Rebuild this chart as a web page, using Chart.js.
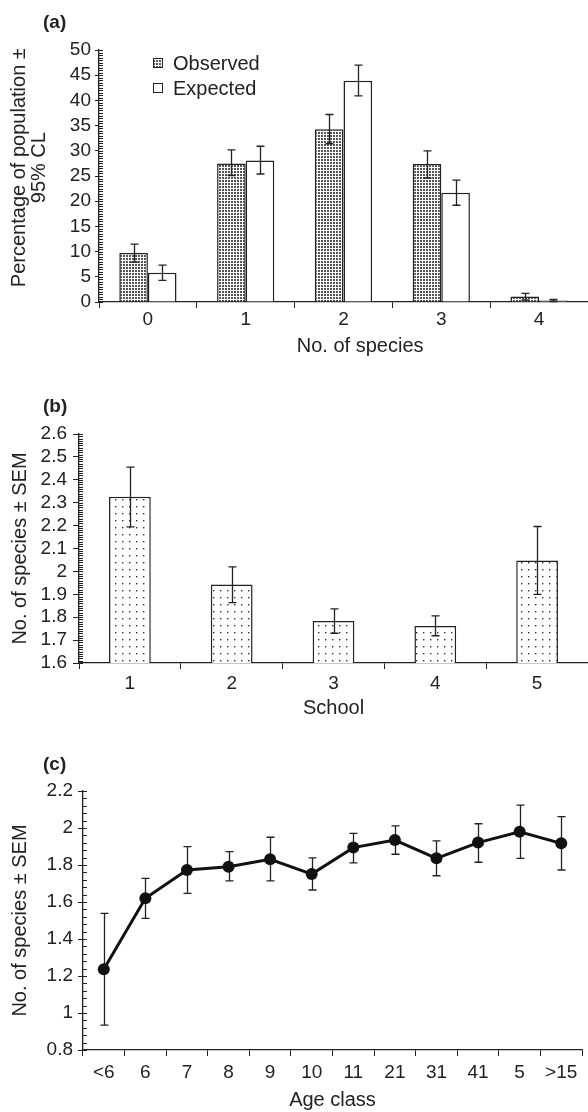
<!DOCTYPE html>
<html>
<head>
<meta charset="utf-8">
<script src="https://cdn.jsdelivr.net/npm/chart.js@4.4.1/dist/chart.umd.min.js"></script>
<style>
  html, body { margin: 0; padding: 0; background: #fff; }
  body { width: 588px; height: 1112px; position: relative; overflow: hidden; }
  .panel { position: absolute; left: 0; width: 588px; }
</style>
</head>
<body>
<div class="panel" style="top:0;height:360px"><canvas id="chartA"></canvas></div>
<div class="panel" style="top:370px;height:350px"><canvas id="chartB"></canvas></div>
<div class="panel" style="top:730px;height:382px"><canvas id="chartC"></canvas></div>
<script>
// (a) species count distribution
const speciesCounts = ['0', '1', '2', '3', '4'];
const observedPct = [9.7, 27.5, 34.3, 27.4, 1.1];
const observedLow = [7.9, 25.1, 31.4, 24.6, 0.4];
const observedHigh = [11.5, 30.2, 37.2, 30.0, 1.7];
const expectedPct = [5.8, 28.1, 43.9, 21.7, 0.3];
const expectedLow = [4.3, 25.4, 40.9, 19.2, 0.1];
const expectedHigh = [7.3, 30.9, 47.0, 24.2, 0.5];

// (b) per school
const schools = ['1', '2', '3', '4', '5'];
const schoolMean = [2.326, 1.943, 1.783, 1.762, 2.048];
const schoolLow = [2.194, 1.864, 1.730, 1.719, 1.900];
const schoolHigh = [2.455, 2.020, 1.836, 1.806, 2.196];

// (c) per age class
const ageClasses = ['<6', '6', '7', '8', '9', '10', '11', '21', '31', '41', '5', '>15'];
const ageMean = [1.236, 1.620, 1.773, 1.791, 1.831, 1.751, 1.894, 1.935, 1.836, 1.921, 1.980, 1.917];
const ageLow = [0.935, 1.512, 1.647, 1.714, 1.714, 1.665, 1.812, 1.858, 1.742, 1.815, 1.836, 1.773];
const ageHigh = [1.539, 1.728, 1.899, 1.872, 1.950, 1.839, 1.971, 2.011, 1.930, 2.023, 2.124, 2.061];

const FONT = "'Liberation Sans', Arial, Helvetica, sans-serif";
const INK = '#222';
Chart.defaults.font.family = FONT;
Chart.defaults.color = INK;
Chart.defaults.animation = false;

function makePattern(w, h, paint) {
  const c = document.createElement('canvas');
  c.width = w; c.height = h;
  paint(c.getContext('2d'));
  return c.getContext('2d').createPattern(c, 'repeat');
}

// dense grey dots for "Observed"
const densePattern = makePattern(3, 3, g => {
  g.fillStyle = '#fff'; g.fillRect(0, 0, 3, 3);
  g.fillStyle = '#555'; g.fillRect(0, 0, 2, 2);
});
// sparse dots for panel (b)
const dotPattern = makePattern(7, 7, g => {
  g.fillStyle = '#fff'; g.fillRect(0, 0, 7, 7);
  g.fillStyle = '#333'; g.fillRect(3, 3, 1.4, 1.4);
});

function drawErrorBars(chart, opts) {
  const ctx = chart.ctx;
  const y = chart.scales.y;
  ctx.save();
  ctx.strokeStyle = INK;
  ctx.lineWidth = opts.width || 1.3;
  chart.data.datasets.forEach((ds, di) => {
    const meta = chart.getDatasetMeta(di);
    meta.data.forEach((el, i) => {
      const x = Math.round(el.x) + 0.5;
      const top = y.getPixelForValue(ds.errHigh[i]);
      const bot = y.getPixelForValue(ds.errLow[i]);
      ctx.beginPath();
      ctx.moveTo(x, top); ctx.lineTo(x, bot);
      ctx.moveTo(x - opts.cap, top); ctx.lineTo(x + opts.cap, top);
      ctx.moveTo(x - opts.cap, bot); ctx.lineTo(x + opts.cap, bot);
      ctx.stroke();
    });
  });
  ctx.restore();
}

const errorBars = {
  id: 'errorBars',
  beforeDatasetsDraw(chart, args, opts) { if (opts.under) drawErrorBars(chart, opts); },
  afterDatasetsDraw(chart, args, opts) { if (!opts.under) drawErrorBars(chart, opts); }
};

// small inward ticks on the value axis
const minorTicks = {
  id: 'minorTicks',
  afterDraw(chart, args, opts) {
    const s = chart.scales.y;
    const ctx = chart.ctx;
    const n = Math.round((s.max - s.min) / opts.step);
    ctx.save();
    ctx.strokeStyle = INK;
    ctx.lineWidth = 1;
    for (let k = 0; k <= n; k++) {
      const py = Math.round(s.getPixelForValue(s.min + k * opts.step)) + 0.5;
      ctx.beginPath();
      ctx.moveTo(s.right, py);
      ctx.lineTo(s.right + opts.len, py);
      ctx.stroke();
    }
    ctx.restore();
  }
};

const panelTag = {
  id: 'panelTag',
  afterDraw(chart, args, opts) {
    const ctx = chart.ctx;
    ctx.save();
    ctx.font = `bold 19px ${FONT}`;
    ctx.fillStyle = INK;
    ctx.textBaseline = 'middle';
    ctx.fillText(opts.text, opts.x, opts.y);
    ctx.restore();
  }
};

const boxLegend = {
  id: 'boxLegend',
  afterDraw(chart, args, opts) {
    if (!opts.show) return;
    const ctx = chart.ctx;
    ctx.save();
    ctx.font = `20px ${FONT}`;
    ctx.textBaseline = 'middle';
    chart.data.datasets.forEach((ds, i) => {
      const cy = opts.y + i * opts.gap;
      ctx.fillStyle = ds.backgroundColor;
      ctx.fillRect(opts.x, cy - 5, 10, 10);
      ctx.strokeStyle = INK;
      ctx.lineWidth = 1;
      ctx.strokeRect(opts.x + 0.5, cy - 4.5, 9, 9);
      ctx.fillStyle = INK;
      ctx.fillText(ds.label, opts.x + 20, cy + 1);
    });
    ctx.restore();
  }
};

function fixedWidth(w) { return scale => { scale.width = w; }; }
function fixedHeight(h) { return scale => { scale.height = h; }; }
const fmt = v => String(Math.round(v * 10) / 10);

// ---- (a)
new Chart(document.getElementById('chartA'), {
  type: 'bar',
  data: {
    labels: speciesCounts,
    datasets: [
      { label: 'Observed', data: observedPct, errLow: observedLow, errHigh: observedHigh,
        backgroundColor: densePattern, borderColor: INK, borderWidth: 1.5 },
      { label: 'Expected', data: expectedPct, errLow: expectedLow, errHigh: expectedHigh,
        backgroundColor: '#fff', borderColor: INK, borderWidth: 1.5 }
    ]
  },
  options: {
    responsive: true,
    maintainAspectRatio: false,
    layout: { padding: { top: 50, left: 0, right: 0, bottom: 0 } },
    datasets: { bar: { categoryPercentage: 0.585, barPercentage: 1.0 } },
    scales: {
      x: {
        afterFit: fixedHeight(58),
        grid: { drawOnChartArea: false, tickLength: 6, color: INK, offset: true },
        border: { color: INK, width: 1.3 },
        ticks: { font: { size: 19 }, padding: 0 },
        // leading spaces nudge the centred title right, as in the original
        title: { display: true, text: '      No. of species', font: { size: 20 }, padding: { top: 0, bottom: 2 } }
      },
      y: {
        min: 0, max: 50,
        afterFit: fixedWidth(99),
        grid: { drawOnChartArea: false, tickLength: 4, color: INK },
        border: { color: INK, width: 1.3 },
        ticks: { stepSize: 5, autoSkip: false, font: { size: 19 }, padding: 4, callback: fmt },
        title: { display: true, text: ['   Percentage of population ±', '   95% CL'],
          font: { size: 20, lineHeight: 1.0 }, padding: { top: 9, bottom: 0 } }
      }
    },
    plugins: {
      legend: { display: false },
      tooltip: { enabled: false },
      errorBars: { cap: 4, width: 1.3 },
      minorTicks: { step: 0.5, len: 4 },
      panelTag: { text: '(a)', x: 43, y: 23 },
      boxLegend: { show: true, x: 153, y: 63, gap: 25 }
    }
  },
  plugins: [errorBars, minorTicks, panelTag, boxLegend]
});

// ---- (b)
new Chart(document.getElementById('chartB'), {
  type: 'bar',
  data: {
    labels: schools,
    datasets: [
      { label: 'School mean', data: schoolMean, errLow: schoolLow, errHigh: schoolHigh,
        backgroundColor: dotPattern, borderColor: INK, borderWidth: 1.5 }
    ]
  },
  options: {
    responsive: true,
    maintainAspectRatio: false,
    layout: { padding: { top: 64, left: 0, right: 0, bottom: 0 } },
    datasets: { bar: { categoryPercentage: 0.41, barPercentage: 1.0 } },
    scales: {
      x: {
        afterFit: fixedHeight(57),
        grid: { drawOnChartArea: false, tickLength: 6, color: INK, offset: true },
        border: { color: INK, width: 1.3 },
        ticks: { font: { size: 19 }, padding: 3 },
        title: { display: true, text: 'School', font: { size: 20 }, padding: { top: 0, bottom: 0 } }
      },
      y: {
        min: 1.6, max: 2.6,
        afterFit: fixedWidth(79),
        grid: { drawOnChartArea: false, tickLength: 6, color: INK },
        border: { color: INK, width: 1.3 },
        ticks: { stepSize: 0.1, autoSkip: false, font: { size: 19 }, padding: 6, callback: fmt },
        title: { display: true, text: 'No. of species ± SEM', font: { size: 20 }, padding: { top: 8, bottom: 0 } }
      }
    },
    plugins: {
      legend: { display: false },
      tooltip: { enabled: false },
      errorBars: { cap: 4, width: 1.3 },
      minorTicks: { step: 0.01, len: 4 },
      panelTag: { text: '(b)', x: 43, y: 37 },
      boxLegend: { show: false }
    }
  },
  plugins: [errorBars, minorTicks, panelTag, boxLegend]
});

// ---- (c)
new Chart(document.getElementById('chartC'), {
  type: 'line',
  data: {
    labels: ageClasses,
    datasets: [
      { label: 'Age class mean', data: ageMean, errLow: ageLow, errHigh: ageHigh,
        borderColor: '#111', borderWidth: 3, tension: 0,
        pointRadius: 6, pointBackgroundColor: '#111', pointBorderWidth: 0 }
    ]
  },
  options: {
    responsive: true,
    maintainAspectRatio: false,
    layout: { padding: { top: 61, left: 0, right: 2, bottom: 0 } },
    scales: {
      x: {
        offset: true,
        afterFit: fixedHeight(62),
        grid: { drawOnChartArea: false, tickLength: 6, color: INK, offset: true },
        border: { color: INK, width: 1.3 },
        ticks: { font: { size: 19 }, padding: 5, autoSkip: false, maxRotation: 0 },
        title: { display: true, text: 'Age class', font: { size: 20 }, padding: { top: 0, bottom: 0 } }
      },
      y: {
        min: 0.8, max: 2.2,
        afterFit: fixedWidth(83),
        grid: { drawOnChartArea: false, tickLength: 5, color: INK },
        border: { color: INK, width: 1.3 },
        ticks: { stepSize: 0.2, autoSkip: false, font: { size: 19 }, padding: 5, callback: fmt },
        title: { display: true, text: 'No. of species ± SEM', font: { size: 20 }, padding: { top: 8, bottom: 0 } }
      }
    },
    plugins: {
      legend: { display: false },
      tooltip: { enabled: false },
      errorBars: { cap: 4, width: 1.3, under: true },
      minorTicks: { step: 0.04, len: 4 },
      panelTag: { text: '(c)', x: 43, y: 35 },
      boxLegend: { show: false }
    }
  },
  plugins: [errorBars, minorTicks, panelTag, boxLegend]
});
</script>
</body>
</html>
